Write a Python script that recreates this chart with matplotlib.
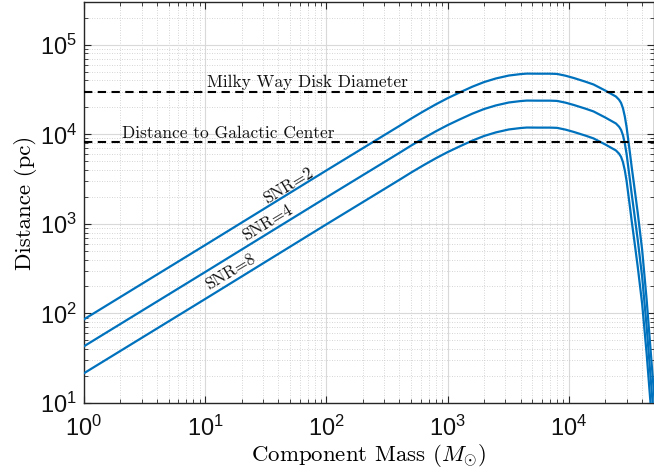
import matplotlib
matplotlib.use("Agg")
import matplotlib.pyplot as plt
from matplotlib.ticker import LogLocator, NullFormatter

plt.rcParams['font.family'] = ['Liberation Sans', 'DejaVu Sans']
plt.rcParams['mathtext.fontset'] = 'custom'
plt.rcParams['mathtext.rm'] = 'Liberation Sans'
plt.rcParams['mathtext.it'] = 'Liberation Sans:italic'
plt.rcParams['mathtext.bf'] = 'Liberation Sans:bold'

# Component mass (solar masses)
mass = [1, 10, 100, 200, 400, 500, 630, 800, 1000, 1250,
        1600, 2000, 2500, 3200, 4000, 4500, 5500, 7000, 8000, 9400,
        11000, 13700, 16000, 20000, 24500, 26000, 27000, 28000, 29000, 30000,
        31000, 32000, 33000, 34300, 37000, 40300, 43900, 49100, 55000]
# Horizon distance (pc) for each SNR threshold
dist_snr2 = [86, 580, 3950, 7000, 12400, 14960, 18000, 21600, 25300, 29200,
             34000, 38300, 42000, 45300, 47000, 47600, 47500, 47500, 47200, 45100,
             42500, 38700, 36000, 30800, 26400, 24300, 22400, 19500, 15800, 12000,
             8500, 6100, 4360, 2950, 1350, 512, 142, 20.6, 3.0]
dist_snr4 = [43, 290, 1975, 3500, 6200, 7480, 9000, 10800, 12650, 14600,
             17000, 19150, 21000, 22650, 23500, 23800, 23750, 23750, 23600, 22550,
             21250, 19350, 18000, 15400, 13200, 12150, 11200, 9750, 7900, 6000,
             4250, 3050, 2180, 1475, 675, 256, 71, 10.3, 1.5]
dist_snr8 = [21.5, 145, 988, 1750, 3100, 3740, 4500, 5400, 6325, 7300,
             8500, 9575, 10500, 11325, 11750, 11900, 11875, 11875, 11800, 11275,
             10625, 9675, 9000, 7700, 6600, 6075, 5600, 4875, 3950, 3000,
             2125, 1525, 1090, 738, 338, 128, 35.5, 5.15, 0.75]

snr_labels = ['SNR=2', 'SNR=4', 'SNR=8']
snr_label_mass = [48.7, 32.7, 16.3]
snr_label_dist = [2660, 1026, 294]

ref_dists = [3.0e4, 8.3e3]
ref_names = ['Milky Way Disk Diameter', 'Distance to Galactic Center']
ref_text_mass = [10.3, 2.04]
ref_text_dist = [33700, 9060]

blue = '#0072BD'

fig = plt.figure(figsize=(6.54, 4.74), dpi=100)
ax = fig.add_axes([84/654, 71/474, 569.5/654, 401/474])

for d in (dist_snr2, dist_snr4, dist_snr8):
    ax.loglog(mass, d, color=blue, lw=1.6, zorder=3)

for yv in ref_dists:
    ax.axhline(yv, color='black', lw=1.5, ls=(0, (4, 2.6)), zorder=4)

for name, xm, yd in zip(ref_names, ref_text_mass, ref_text_dist):
    ax.text(xm, yd, name, fontfamily='cmr10', fontsize=12.5, ha='left',
            va='baseline', color='#111111', zorder=5)

for lab, xm, yd in zip(snr_labels, snr_label_mass, snr_label_dist):
    ax.text(xm, yd, lab, fontfamily='cmr10', fontsize=12, ha='center',
            va='center', rotation=31, rotation_mode='anchor',
            color='#111111', zorder=5)

ax.set_xlim(1, 5e4)
ax.set_ylim(10, 3e5)

ax.xaxis.set_major_locator(LogLocator(base=10, numticks=20))
ax.yaxis.set_major_locator(LogLocator(base=10, numticks=20))
ax.xaxis.set_minor_locator(LogLocator(base=10, subs=range(2, 10), numticks=50))
ax.yaxis.set_minor_locator(LogLocator(base=10, subs=range(2, 10), numticks=50))
ax.xaxis.set_minor_formatter(NullFormatter())
ax.yaxis.set_minor_formatter(NullFormatter())

ax.grid(True, which='major', color='#d9d9d9', lw=0.8, ls='-', zorder=0)
ax.grid(True, which='minor', color='#c8c8c8', lw=0.6, ls=(0, (1, 2)), zorder=0)
ax.set_axisbelow(True)

ax.tick_params(which='both', direction='in', top=True, right=True,
               color='#262626')
ax.tick_params(which='major', length=5, width=0.8, labelsize=17,
               labelcolor='#111111')
ax.tick_params(axis='x', which='major', pad=9)
ax.tick_params(axis='y', which='major', pad=5)
ax.tick_params(which='minor', length=3, width=0.6)
for s in ax.spines.values():
    s.set_color('#262626')
    s.set_linewidth(1.0)

ax.set_xlabel(r'Component Mass ($M_{\odot}$)', fontfamily='cmr10', fontsize=16.5,
              labelpad=1, math_fontfamily='cm')
ax.set_ylabel('Distance (pc)', fontfamily='cmr10', fontsize=16.5, labelpad=2)

fig.savefig('out.png', dpi=100)
